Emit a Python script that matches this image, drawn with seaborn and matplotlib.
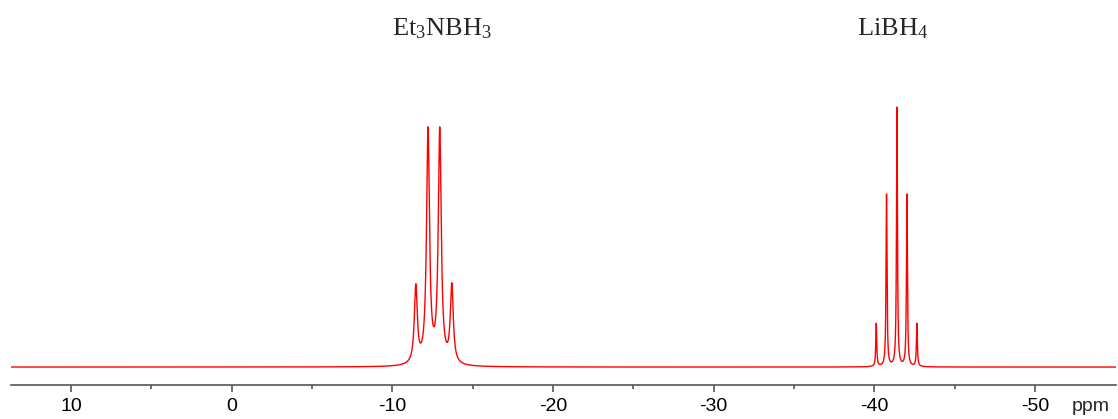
import numpy as np
import pandas as pd
import matplotlib.pyplot as plt
import seaborn as sns

# peak table (ppm, height in arbitrary units, half width in ppm)
et3nbh3_ppm = [-11.46, -12.22, -12.95, -13.70]
et3nbh3_height = [77, 233, 233, 78]
et3nbh3_hwhm = [0.11, 0.11, 0.11, 0.11]

libh4_ppm = [-40.12, -40.76, -41.41, -42.03, -42.65]
libh4_height = [43, 172, 259, 172, 43]
libh4_hwhm = [0.035, 0.035, 0.035, 0.035, 0.035]

labels = ["Et$_3$NBH$_3$", "LiBH$_4$"]
label_ppm = [-13.08, -41.16]
tick_values = [10, 0, -10, -20, -30, -40, -50]

# build the trace as a sum of Lorentzian lines
ppm = np.linspace(13.74, -55.05, 30000)
intensity = np.zeros_like(ppm)
for centers, heights, widths in [(et3nbh3_ppm, et3nbh3_height, et3nbh3_hwhm),
                                 (libh4_ppm, libh4_height, libh4_hwhm)]:
    for c, h, w in zip(centers, heights, widths):
        intensity += h * w ** 2 / ((ppm - c) ** 2 + w ** 2)

df = pd.DataFrame({"ppm": ppm, "intensity": intensity})

sns.set_style("white")
plt.rcParams["font.family"] = ["Liberation Sans", "DejaVu Sans"]
plt.rcParams["mathtext.fontset"] = "custom"
plt.rcParams["mathtext.rm"] = "Liberation Serif"
plt.rcParams["mathtext.it"] = "Liberation Serif:italic"

fig = plt.figure(figsize=(11.18, 4.19), dpi=100)
ax = fig.add_axes([0.0098, 0.081, 0.9885, 0.919])

sns.lineplot(data=df, x="ppm", y="intensity", color="#ff0000", linewidth=1.0,
             ax=ax, estimator=None, sort=False)

ax.set_xlim(13.74, -55.05)
ax.set_ylim(-18, 367)

for side in ["top", "left", "right"]:
    ax.spines[side].set_visible(False)
ax.spines["bottom"].set_color("#555555")
ax.spines["bottom"].set_linewidth(1.2)

ax.set_yticks([])
ax.set_xticks(tick_values)
ax.set_xticklabels([str(v) for v in tick_values], fontsize=14)
ax.set_xticks(np.arange(5, -55, -10), minor=True)
ax.tick_params(axis="x", which="major", bottom=True, direction="out", length=5,
               width=1.2, color="#555555", pad=4, labelcolor="black")
ax.tick_params(axis="x", which="minor", bottom=True, direction="out", length=3,
               width=1.2, color="#555555")
ax.set_xlabel("")
ax.set_ylabel("")
ax.text(0.977, -0.055, "ppm", transform=ax.transAxes, fontsize=14,
        ha="center", va="center")

for lab, x in zip(labels, label_ppm):
    ax.text(x, 0.925, "$\\mathrm{" + lab.replace("$", "") + "}$",
            transform=ax.get_xaxis_transform(), fontsize=19,
            ha="center", va="center")

fig.savefig("out.png", dpi=100)
